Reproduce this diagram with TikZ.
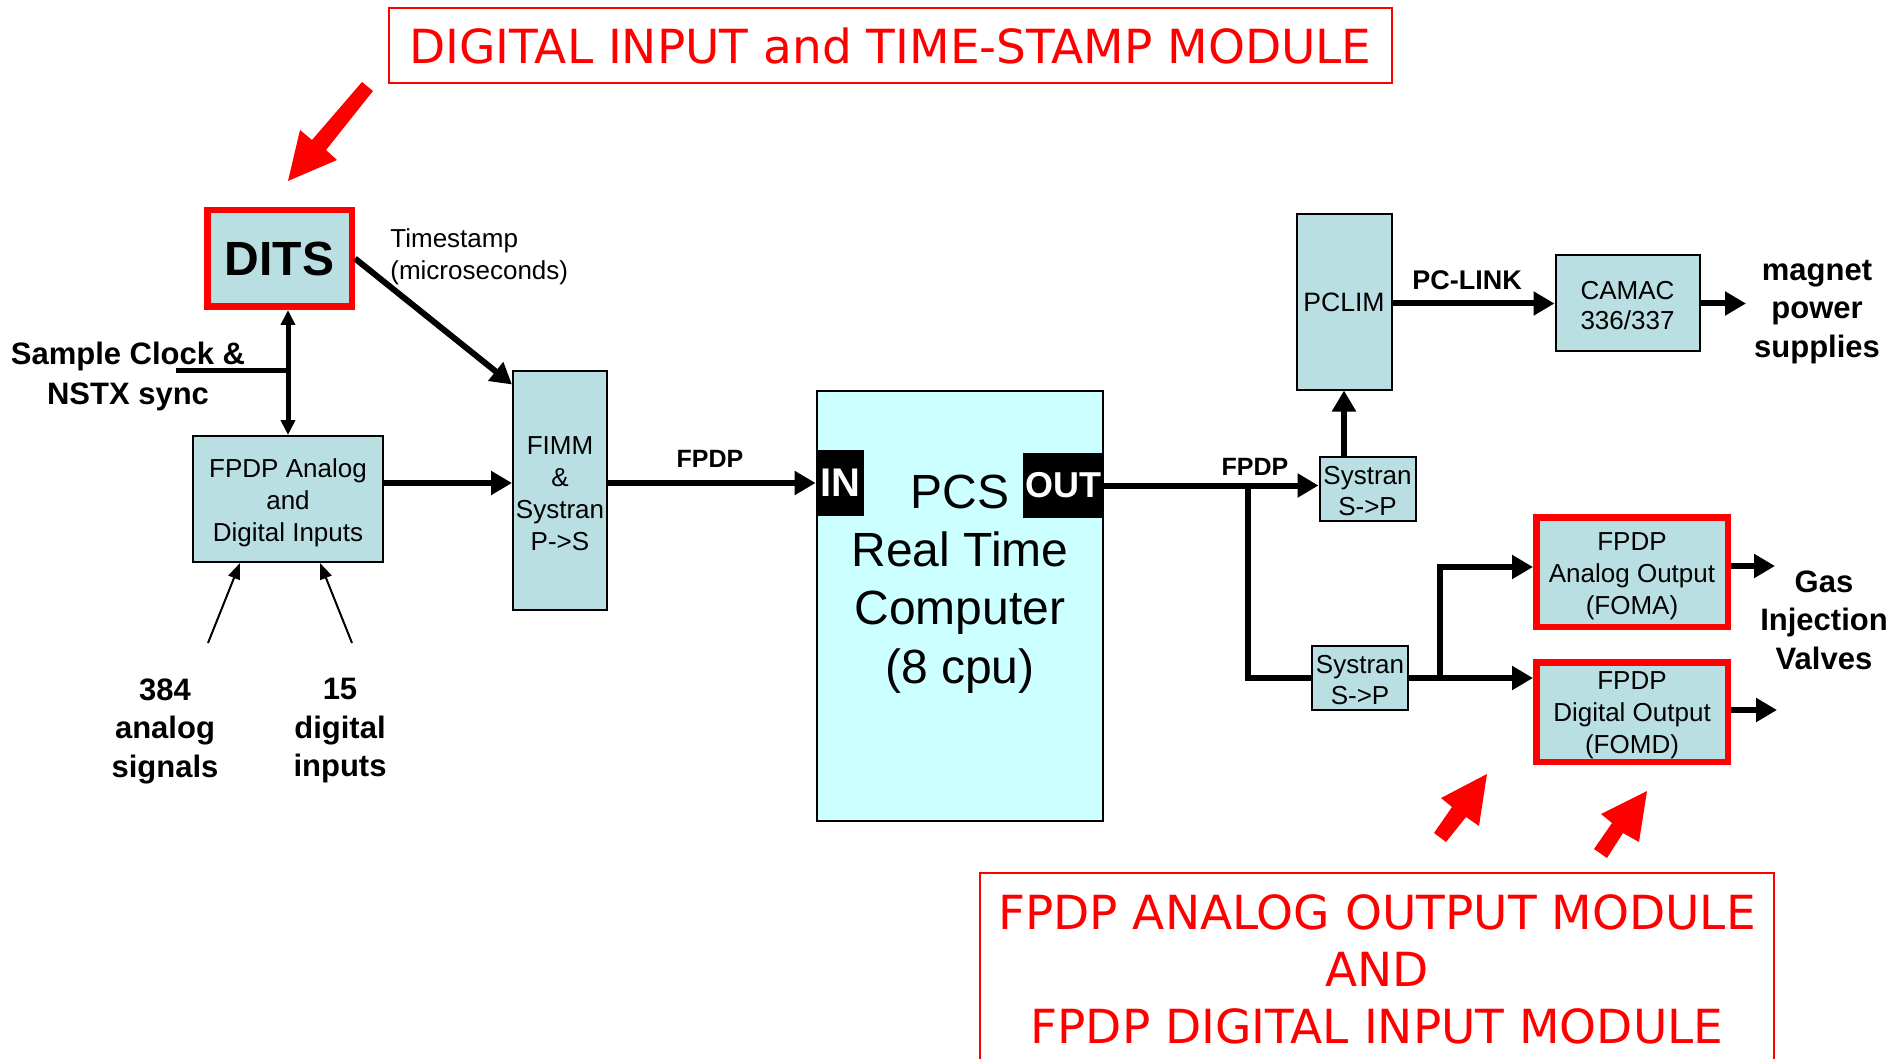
\documentclass[tikz,border=0pt]{standalone}
\usepackage{fontspec}
\setmainfont{Liberation Sans}
\newfontfamily\djv{DejaVu Sans}
\usetikzlibrary{arrows.meta,calc}
\definecolor{boxfill}{RGB}{185,223,227}
\definecolor{pcsfill}{RGB}{204,255,255}
\definecolor{pred}{RGB}{255,0,0}
\newcommand{\topstrut}[1]{\rule{0pt}{#1}}
\newcommand{\botstrut}[1]{\rule[-#1]{0pt}{1pt}}
\begin{document}
\begin{tikzpicture}[x=0.5pt,y=-0.5pt,
 box/.style={draw=black, line width=1pt, fill=boxfill, inner sep=0pt, align=center, font=\fontsize{13}{16}\selectfont},
 redbox/.style={box, draw=pred, line width=3.25pt},
 lbl/.style={inner sep=0pt, align=center, font=\bfseries\fontsize{15.5}{19.25}\selectfont},
 conn/.style={line width=3pt},
 arr/.style={conn, -{Triangle[length=10.5pt,width=11.5pt]}},
 thinarr/.style={line width=1pt, -{Triangle[length=8pt,width=6pt]}},
 titlebox/.style={draw=pred, line width=1pt, text=pred, inner sep=0pt, align=center, font=\djv\fontsize{23.5}{28.5}\selectfont},
 blk/.style={fill=black, text=white, inner sep=0pt, font=\bfseries}
]
\useasboundingbox (0,0) rectangle (1891,1059);
\clip (0,0) rectangle (1891,1059);
\fill[white] (0,0) rectangle (1891,1059);

% titles
\node[titlebox, minimum width=501.5pt, minimum height=37.5pt] (toptitle) at (890.5,45.5) {DIGITAL INPUT and TIME-STAMP MODULE};
\node[titlebox, minimum width=397pt, minimum height=96pt] (bottitle) at (1377,969) {FPDP ANALOG OUTPUT MODULE\\AND\\FPDP DIGITAL INPUT MODULE};

% boxes
\node[redbox, minimum width=72.25pt, minimum height=48.25pt, font=\bfseries\fontsize{24}{28}\selectfont] (dits) at (279.5,258.5) {DITS};
\node[box, minimum width=95pt, minimum height=63pt] (fpdpin) at (288,499) {\topstrut{13.1pt}FPDP Analog\\and\\Digital Inputs\botstrut{1.5pt}};
\node[box, minimum width=47pt, minimum height=119pt] (fimm) at (560,490.5) {\topstrut{13.7pt}FIMM\\\&\\Systran\\P->S\botstrut{2pt}};
\node[draw=black, line width=1pt, fill=pcsfill, minimum width=143pt, minimum height=215pt, inner sep=0pt] (pcs) at (960,606) {};
\node[blk, minimum width=24pt, minimum height=33pt, font=\bfseries\fontsize{20}{24}\selectfont] (in) at (840,483) {IN};
\node[blk, minimum width=40.5pt, minimum height=32.5pt, font=\bfseries\fontsize{18}{22}\selectfont] (out) at (1063.5,485.5) {OUT};
\node[align=center, inner sep=0pt, font=\fontsize{24}{29.2}\selectfont] (pcstext) at (960,584) {PCS\\Real Time\\Computer\\(8 cpu)};
\node[box, minimum width=48pt, minimum height=32pt, font=\fontsize{13}{15.5}\selectfont] (sys1) at (1367.5,489) {\topstrut{12.3pt}Systran\\S->P\botstrut{1.5pt}};
\node[box, minimum width=48pt, minimum height=32pt, font=\fontsize{13}{15.5}\selectfont] (sys2) at (1360,678) {\topstrut{12.5pt}Systran\\S->P\botstrut{1.5pt}};
\node[box, minimum width=47.5pt, minimum height=87.5pt, font=\fontsize{13.3}{16}\selectfont] (pclim) at (1344,302) {PCLIM};
\node[box, minimum width=72pt, minimum height=48pt, font=\fontsize{13}{15}\selectfont] (camac) at (1627.5,303.5) {\topstrut{13.1pt}CAMAC\\336/337\botstrut{2pt}};
\node[redbox, minimum width=95.75pt, minimum height=54.75pt, font=\fontsize{13}{16}\selectfont] (foma) at (1632,572) {\topstrut{13.1pt}FPDP\\Analog Output\\(FOMA)\botstrut{2pt}};
\node[redbox, minimum width=95.75pt, minimum height=49.75pt, font=\fontsize{13}{16}\selectfont] (fomd) at (1632,712) {\topstrut{12.5pt}FPDP\\Digital Output\\(FOMD)\botstrut{2pt}};

% labels
\node[anchor=west, align=left, inner sep=0pt, font=\fontsize{13}{16}\selectfont] (ts) at (390,257) {Timestamp\\(microseconds)};
\node[lbl, font=\bfseries\fontsize{15.5}{20}\selectfont] (clk) at (128,376) {Sample Clock \&\\NSTX sync};
\node[lbl] (ana) at (165,731) {384\\analog\\signals};
\node[lbl] (dig) at (340,731) {15\\digital\\inputs};
\node[inner sep=0pt, font=\bfseries\fontsize{12.5}{14}\selectfont] (fl1) at (710,459) {FPDP};
\node[inner sep=0pt, font=\bfseries\fontsize{12.5}{14}\selectfont] (fl2) at (1255,467) {FPDP};
\node[inner sep=0pt, font=\bfseries\fontsize{13.5}{15}\selectfont] (pcl) at (1467,280) {PC-LINK};
\node[lbl, font=\bfseries\fontsize{15.5}{19.3}\selectfont] (mag) at (1817,312) {magnet\\power\\supplies};
\node[lbl] (gas) at (1824,620) {Gas\\Injection\\Valves};

% connectors
\draw[line width=2.5pt, {Triangle[length=7.5pt,width=7pt]}-{Triangle[length=7.5pt,width=7pt]}] (fpdpin.north |- dits.south) -- (fpdpin.north);
\coordinate (clkend) at (176,371);
\draw[line width=2.5pt] (clkend) -- (clkend -| fpdpin.north);
\draw[arr] (dits.east) -- ($(fimm.north west)+(0,14)$);
\draw[arr] ($(fpdpin.east)+(0,-16)$) -- ($(fimm.west)+(0,-7.5)$);
\draw[arr] (fimm.east |- in.west) -- (in.west);
\draw[arr] (out.east) -- (out.east -| sys1.west);
\coordinate (br1) at (1248,486);
\draw[conn] (br1) |- (sys2.west);
\draw[arr] (sys1.north -| pclim.south) -- (pclim.south);
\draw[arr] (pclim.east |- camac.west) -- (camac.west);
\coordinate (magend) at (1746,304);
\draw[arr] (camac.east) -- (camac.east -| magend);
\draw[arr] (sys2.east) -- (sys2.east -| fomd.west);
\coordinate (br2) at (1440,678);
\draw[arr] (br2) |- ($(foma.west)+(0,-5)$);
\coordinate (gasend1) at (1775,566);
\draw[arr] (foma.east |- gasend1) -- (gasend1);
\coordinate (gasend2) at (1777,710);
\draw[arr] (fomd.east |- gasend2) -- (gasend2);
\coordinate (a1) at (208,643);
\coordinate (a2) at (352,643);
\draw[thinarr] (a1) -- ($(fpdpin.south)+(-48,0)$);
\draw[thinarr] (a2) -- ($(fpdpin.south)+(32,0)$);

% red pointer arrows
\fill[pred] (362,82) -- (312,140) -- (300,130) -- (288,181) -- (337,160) -- (326,150) -- (373,91) -- cycle;
\fill[pred] (1487,774) -- (1441,798) -- (1452,807) -- (1434,833) -- (1446,842) -- (1466,817) -- (1479,826) -- cycle;
\fill[pred] (1647,791) -- (1601,814) -- (1612,823) -- (1594,849) -- (1607,858) -- (1623,833) -- (1639,842) -- cycle;
\end{tikzpicture}
\end{document}
